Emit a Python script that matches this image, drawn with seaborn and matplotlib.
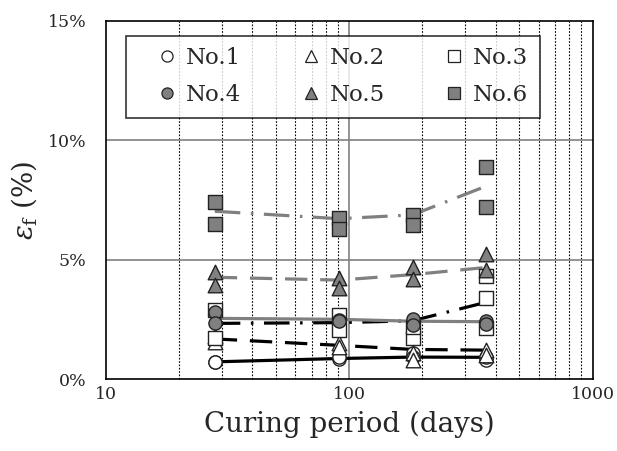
import matplotlib
matplotlib.use("Agg")
import matplotlib.pyplot as plt
from matplotlib.lines import Line2D
from matplotlib.legend_handler import HandlerLine2D
from matplotlib.ticker import FixedLocator, NullFormatter, FixedFormatter
import seaborn as sns
import pandas as pd
import numpy as np

# ---------------- data ----------------
ages = [28, 91, 182, 365]
labels = ["No.1", "No.2", "No.3", "No.4", "No.5", "No.6"]

# individual specimens (%), one list per age
no1 = [[0.74, 0.72], [0.85, 0.95], [1.09, 0.92], [0.81, 0.95]]
no2 = [[1.80, 1.57], [1.52, 1.35], [1.09, 0.80], [1.23, 1.02]]
no3 = [[2.90, 1.71], [2.68, 2.08], [1.74, 2.20], [4.32, 3.39, 2.13]]
no4 = [[2.83, 2.34], [2.50, 2.45], [2.51, 2.27], [2.44, 2.30]]
no5 = [[4.49, 3.96], [4.22, 3.81], [4.69, 4.20], [5.24, 4.57]]
no6 = [[7.40, 6.50], [6.73, 6.28], [6.87, 6.44], [8.89, 7.20]]

# mean lines (%)
line1 = [0.73, 0.87, 0.93, 0.92]
line2 = [1.69, 1.42, 1.25, 1.22]
line3 = [2.34, 2.37, 2.45, 3.22]
line4 = [2.55, 2.51, 2.43, 2.41]
line5 = [4.27, 4.15, 4.38, 4.68]
line6 = [7.03, 6.72, 6.88, 8.08]

y_ticks = [0, 5, 10, 15]
y_ticklabels = ["0%", "5%", "10%", "15%"]
x_ticks = [10, 100, 1000]
x_ticklabels = ["10", "100", "1000"]

# ---------------- style ----------------
sns.set_style("white")
plt.rcParams["font.family"] = ["DejaVu Serif"]
plt.rcParams["mathtext.fontset"] = "dejavuserif"

GRAY = "#808080"
pts_all = [no1, no2, no3, no4, no5, no6]
lines_all = [line1, line2, line3, line4, line5, line6]
markers = ["o", "^", "s", "o", "^", "s"]
faces = ["white", "white", "white", GRAY, GRAY, GRAY]
lcolors = ["black", "black", "black", GRAY, GRAY, GRAY]
dash_solid = ""
dash_d = (7, 4)
dash_dd = (8, 3.3, 0.8, 3.3)
lstyles = [dash_solid, dash_d, dash_dd, dash_solid, dash_d, dash_dd]

fig = plt.figure(figsize=(6.17, 4.51), dpi=100)
ax = fig.add_axes([106 / 617, 1 - 379.3 / 451, (592.5 - 106) / 617, (379.3 - 20.8) / 451])

# lines
for lab, lv, col, ls in zip(labels, lines_all, lcolors, lstyles):
    dfl = pd.DataFrame({"age": ages, "eps": lv})
    sns.lineplot(data=dfl, x="age", y="eps", ax=ax, color=col, lw=2.3,
                 zorder=3, legend=False)
    l = ax.lines[-1]
    if ls:
        l.set_dashes(ls)
    l.set_dash_capstyle("butt")

# points
for lab, pv, mk, fc in zip(labels, pts_all, markers, faces):
    xs, ys = [], []
    for a, vals in zip(ages, pv):
        for v in vals:
            xs.append(a)
            ys.append(v)
    dfp = pd.DataFrame({"age": xs, "eps": ys})
    sns.scatterplot(data=dfp, x="age", y="eps", ax=ax, marker=mk, color=fc,
                    edgecolor="#222222", linewidth=1.0, s=90 if mk != "^" else 110,
                    zorder=4, legend=False)

ax.set_xscale("log")
ax.set_xlim(10, 1000)
ax.set_ylim(0, 15)

# grid
minor = [v * d for d in (10, 100) for v in range(2, 10)]
for m in minor:
    ax.axvline(m, color="black", lw=0.8, ls=(0, (1.5, 1.5)), zorder=1)
ax.axvline(100, color=GRAY, lw=1.2, zorder=1)
for yv in (5, 10):
    ax.axhline(yv, color=GRAY, lw=1.2, zorder=1)

ax.xaxis.set_major_locator(FixedLocator(x_ticks))
ax.xaxis.set_major_formatter(FixedFormatter(x_ticklabels))
ax.xaxis.set_minor_formatter(NullFormatter())
ax.set_yticks(y_ticks)
ax.set_yticklabels(y_ticklabels)
ax.tick_params(axis="x", which="both", length=0, labelsize=12.5, pad=5)
ax.tick_params(axis="y", which="both", length=0, labelsize=12.5, pad=14)

for sp in ax.spines.values():
    sp.set_visible(True)
    sp.set_color("black")
    sp.set_linewidth(1.2)

ax.set_xlabel("Curing period (days)", fontsize=20, labelpad=5)
ax.set_ylabel(r"$\varepsilon_\mathrm{f}$ (%)", fontsize=20, labelpad=6)

# legend
handles = []
order = [0, 3, 1, 4, 2, 5]
for i in order:
    handles.append(Line2D([], [], ls="none", marker=markers[i], markersize=8,
                          markerfacecolor=faces[i], markeredgecolor="#222222",
                          markeredgewidth=0.9, label=labels[i]))
leg = ax.legend(handles=handles, ncol=3, loc="upper left",
                bbox_to_anchor=(0.041, 0.958, 0.851, 0.0), mode="expand",
                borderaxespad=0.0,
                handler_map={Line2D: HandlerLine2D(xpad=0.66)},
                fontsize=16.5, frameon=True, fancybox=False, edgecolor="black",
                handlelength=1.92, handletextpad=0.2, labelspacing=0.65,
                borderpad=0.5, columnspacing=1.0)
leg.get_frame().set_linewidth(1.2)
leg.set_zorder(5)

fig.savefig("out.png", dpi=100)
